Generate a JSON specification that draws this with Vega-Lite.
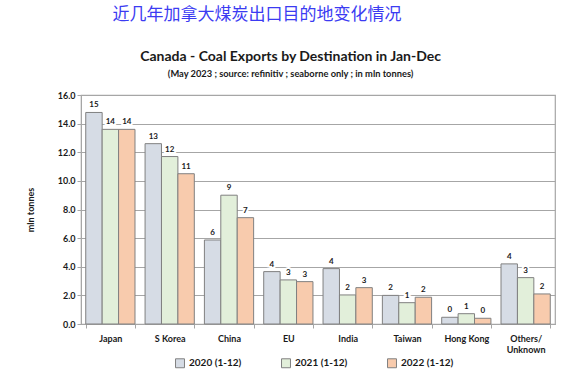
{
  "$schema": "https://vega.github.io/schema/vega-lite/v6.json",
  "background": "white",
  "padding": {"left": 25, "top": 6, "right": 5, "bottom": 2},
  "config": {
    "font": "Lato",
    "view": {"stroke": "#a6a6a6", "strokeWidth": 1.2},
    "concat": {"spacing": 0}
  },
  "title": {
    "text": "近几年加拿大煤炭出口目的地变化情况",
    "font": "Noto Sans CJK SC",
    "fontSize": 17,
    "fontWeight": "normal",
    "color": "#3b3bf2",
    "anchor": "start",
    "dx": 87,
    "offset": 25
  },
  "data": {
    "values": [
      {"dest": "Japan", "year": "2020 (1-12)", "value": 14.78},
      {"dest": "Japan", "year": "2021 (1-12)", "value": 13.6},
      {"dest": "Japan", "year": "2022 (1-12)", "value": 13.6},
      {"dest": "S Korea", "year": "2020 (1-12)", "value": 12.6},
      {"dest": "S Korea", "year": "2021 (1-12)", "value": 11.7},
      {"dest": "S Korea", "year": "2022 (1-12)", "value": 10.5},
      {"dest": "China", "year": "2020 (1-12)", "value": 5.87},
      {"dest": "China", "year": "2021 (1-12)", "value": 9.0},
      {"dest": "China", "year": "2022 (1-12)", "value": 7.43},
      {"dest": "EU", "year": "2020 (1-12)", "value": 3.66},
      {"dest": "EU", "year": "2021 (1-12)", "value": 3.08},
      {"dest": "EU", "year": "2022 (1-12)", "value": 2.96},
      {"dest": "India", "year": "2020 (1-12)", "value": 3.87},
      {"dest": "India", "year": "2021 (1-12)", "value": 2.03},
      {"dest": "India", "year": "2022 (1-12)", "value": 2.54},
      {"dest": "Taiwan", "year": "2020 (1-12)", "value": 2.0},
      {"dest": "Taiwan", "year": "2021 (1-12)", "value": 1.49},
      {"dest": "Taiwan", "year": "2022 (1-12)", "value": 1.87},
      {"dest": "Hong Kong", "year": "2020 (1-12)", "value": 0.47},
      {"dest": "Hong Kong", "year": "2021 (1-12)", "value": 0.72},
      {"dest": "Hong Kong", "year": "2022 (1-12)", "value": 0.4},
      {"dest": "Others/Unknown", "year": "2020 (1-12)", "value": 4.2},
      {"dest": "Others/Unknown", "year": "2021 (1-12)", "value": 3.24},
      {"dest": "Others/Unknown", "year": "2022 (1-12)", "value": 2.1}
    ]
  },
  "vconcat": [
    {
      "width": 474,
      "height": 229,
      "title": {
        "text": "Canada - Coal Exports by Destination in Jan-Dec",
        "subtitle": "(May 2023 ; source: refinitiv ; seaborne only ; in mln tonnes)",
        "fontSize": 14,
        "fontWeight": "bold",
        "color": "#1a1a1a",
        "subtitleFontSize": 9.3,
        "subtitleFontWeight": "bold",
        "subtitleColor": "#1a1a1a",
        "subtitlePadding": 6,
        "anchor": "middle",
        "frame": "bounds",
        "offset": 12
      },
      "encoding": {
        "x": {
          "field": "dest",
          "type": "nominal",
          "sort": ["Japan", "S Korea", "China", "EU", "India", "Taiwan", "Hong Kong", "Others/Unknown"],
          "scale": {"paddingInner": 0.17, "paddingOuter": 0.08},
          "axis": {
            "title": null,
            "labelAngle": 0,
            "labelFontSize": 9,
            "labelFontWeight": "bold",
            "labelColor": "#1a1a1a",
            "labelPadding": 6,
            "domainColor": "#a6a6a6",
            "tickColor": "#a6a6a6",
            "tickBand": "extent",
            "tickSize": 4,
            "labelExpr": "datum.value == 'Others/Unknown' ? ['Others/', 'Unknown'] : datum.value"
          }
        },
        "xOffset": {
          "field": "year",
          "type": "nominal",
          "scale": {"paddingInner": 0, "paddingOuter": 0}
        },
        "y": {
          "field": "value",
          "type": "quantitative",
          "scale": {"domain": [0, 16], "nice": false},
          "axis": {
            "values": [0, 2, 4, 6, 8, 10, 12, 14, 16],
            "format": ".1f",
            "title": "mln tonnes",
            "titleFontSize": 9,
            "titleFontWeight": "bold",
            "titleColor": "#1a1a1a",
            "titlePadding": 22,
            "labelFontSize": 9,
            "labelFontWeight": "bold",
            "labelColor": "#1a1a1a",
            "gridColor": "#a6a6a6",
            "gridWidth": 1.2,
            "domainColor": "#a6a6a6",
            "tickColor": "#a6a6a6",
            "tickSize": 4
          }
        }
      },
      "layer": [
        {
          "mark": {"type": "bar", "stroke": "#808080", "strokeWidth": 1},
          "encoding": {
            "color": {
              "field": "year",
              "type": "nominal",
              "scale": {"range": ["#d6dce5", "#e2efda", "#f8cbad"]},
              "legend": {
                "title": null,
                "orient": "none",
                "legendX": 94,
                "legendY": 263,
                "direction": "horizontal",
                "symbolType": "square",
                "symbolSize": 80,
                "symbolStrokeColor": "#808080",
                "symbolStrokeWidth": 1,
                "labelFontSize": 10,
                "labelFontWeight": "bold",
                "labelColor": "#1a1a1a",
                "columnPadding": 37
              }
            }
          }
        },
        {
          "mark": {"type": "text", "fontSize": 8, "fontWeight": "bold", "baseline": "bottom", "dy": -3, "stroke": "white", "strokeWidth": 4, "fill": "white"},
          "encoding": {"text": {"field": "value", "type": "quantitative", "format": ".0f"}}
        },
        {
          "mark": {"type": "text", "fontSize": 8, "fontWeight": "bold", "baseline": "bottom", "dy": -3, "fill": "#1a1a1a"},
          "encoding": {"text": {"field": "value", "type": "quantitative", "format": ".0f"}}
        }
      ]
    }
  ]
}
